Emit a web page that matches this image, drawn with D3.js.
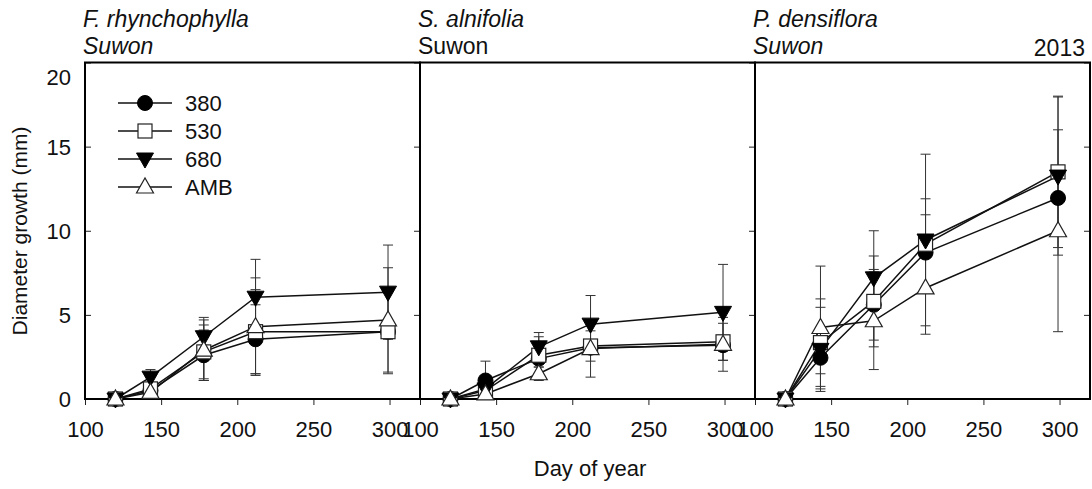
<!DOCTYPE html>
<html>
<head>
<meta charset="utf-8">
<script src="https://d3js.org/d3.v7.min.js"></script>
<style>
    body{ margin:0; background:#fff; }
    svg{ display:block; }
    text{ font-family: Arial, "Liberation Sans", sans-serif; fill:#111; }
</style>
</head>
<body>
<svg width="1092" height="489"></svg>
<script>
    // data
    const days = [120, 143, 178, 212, 299];
    const seriesNames = ["380", "530", "680", "AMB"];
    const panelNames = ["F. rhynchophylla", "S. alnifolia", "P. densiflora"];
    const siteNames = ["Suwon", "Suwon", "Suwon"];
    const xTicks = [100, 150, 200, 250, 300];
    const yTicks = [0, 5, 10, 15, 20];

    // means, one array per panel, rows in order of seriesNames
    const meansF = [[0, 0.5, 2.6, 3.55, 4.0], [0, 0.6, 2.8, 4.0, 4.0], [0, 1.3, 3.7, 6.05, 6.35], [0, 0.4, 2.9, 4.3, 4.7]];
    const meansS = [[0, 1.1, 2.4, 3.05, 3.2], [0, 0.5, 2.6, 3.15, 3.4], [0, 0.6, 3.1, 4.45, 5.15], [0, 0.3, 1.5, 3.0, 3.25]];
    const meansP = [[0, 2.45, 5.6, 8.7, 11.95], [0, 3.35, 5.8, 9.2, 13.5], [0, 2.95, 7.2, 9.45, 13.25], [0, 4.25, 4.65, 6.6, 10.0]];
    // error bar half-lengths
    const errF = [[0, 0.3, 1.5, 2.05, 2.5], [0, 0.3, 1.6, 2.5, 0.4], [0, 0.45, 1.15, 2.25, 2.8], [0, 0.3, 1.8, 2.9, 3.1]];
    const errS = [[0, 1.15, 0.5, 0.4, 0.35], [0, 0.3, 1.1, 0.9, 1.1], [0, 0.3, 0.85, 1.7, 2.85], [0, 0.2, 0.4, 1.7, 1.6]];
    const errP = [[0, 0.95, 2.1, 2.25, 1.9], [0, 2.6, 2.7, 2.7, 4.5], [0, 2.5, 2.8, 5.1, 4.7], [0, 3.65, 2.9, 2.75, 6.0]];

    const allMeans = [meansF, meansS, meansP];
    const allErr = [errF, errS, errP];

    const svg = d3.select("svg");
    svg.append("rect").attr("width", 1092).attr("height", 489).attr("fill", "#fff");

    const plotTop = 62.5, plotBottom = 399;
    const lefts = [85, 420, 755];
    const pw = 335;
    const fs = "22px";
    const y = d3.scaleLinear().domain([0, 20]).range([plotBottom, plotTop]);

    // marker drawing
    function marker(g, name, cx, cy){
        if(name === "380"){
            g.append("circle").attr("cx", cx).attr("cy", cy).attr("r", 7.5)
                .attr("fill", "#000").attr("stroke", "#000");
        } else if(name === "530"){
            g.append("rect").attr("x", cx-7).attr("y", cy-7).attr("width", 14).attr("height", 14)
                .attr("fill", "#fff").attr("stroke", "#222").attr("stroke-width", 1.2);
        } else if(name === "680"){
            g.append("path").attr("d", "M"+(cx-8.5)+","+(cy-6)+" L"+(cx+8.5)+","+(cy-6)+" L"+cx+","+(cy+9)+"Z")
                .attr("fill", "#000").attr("stroke", "#000");
        } else {
            g.append("path").attr("d", "M"+(cx-8.5)+","+(cy+6)+" L"+(cx+8.5)+","+(cy+6)+" L"+cx+","+(cy-9)+"Z")
                .attr("fill", "#fff").attr("stroke", "#222").attr("stroke-width", 1.2);
        }
    }

    panelNames.forEach(function(pname, p){
        const x0 = lefts[p];
        const x = d3.scaleLinear().domain([100, 320]).range([x0, x0 + pw]);
        const g = svg.append("g");

        // x axis, ticks pointing down
        g.append("g").attr("transform", "translate(0," + plotBottom + ")")
            .call(d3.axisBottom(x).tickValues(xTicks).tickSize(6).tickPadding(16).tickFormat(d3.format("d")))
            .call(a => a.select(".domain").remove())
            .call(a => a.selectAll("line").attr("stroke", "#222"))
            .call(a => a.selectAll("text").style("font-size", fs).attr("fill", "#111"));

        // inward ticks on right side
        g.append("g").attr("transform", "translate(" + (x0 + pw) + ",0)")
            .call(d3.axisRight(y).tickValues(yTicks).tickSize(-6).tickFormat(""))
            .call(a => a.select(".domain").remove())
            .call(a => a.selectAll("line").attr("stroke", "#222"));

        if(p === 0){
            g.append("g").attr("transform", "translate(" + x0 + ",0)")
                .call(d3.axisLeft(y).tickValues(yTicks).tickSize(-6).tickPadding(14))
                .call(a => a.select(".domain").remove())
                .call(a => a.selectAll("line").attr("stroke", "#222"))
                .call(a => a.selectAll("text").style("font-size", fs).attr("fill", "#111")
                    .attr("dy", d => d === 20 ? "1.0em" : "0.35em"));
        }

        // frame
        g.append("rect").attr("x", x0).attr("y", plotTop).attr("width", pw).attr("height", plotBottom - plotTop)
            .attr("fill", "none").attr("stroke", "#000").attr("stroke-width", 2);

        // titles
        g.append("text").attr("x", x0 - 2).attr("y", 27).style("font-size", "23px")
            .style("font-style", "italic").text(pname);
        g.append("text").attr("x", x0 - 2).attr("y", 54).style("font-size", "23px")
            .style("font-style", p === 1 ? "normal" : "italic").text(siteNames[p]);

        const means = allMeans[p], errs = allErr[p];

        // error bars
        seriesNames.forEach(function(s, i){
            days.forEach(function(d, j){
                const e = errs[i][j];
                if(e <= 0) return;
                const cx = x(d);
                const y1 = y(means[i][j] + e), y2 = y(Math.max(0, means[i][j] - e));
                g.append("line").attr("x1", cx).attr("x2", cx).attr("y1", y1).attr("y2", y2)
                    .attr("stroke", "#333").attr("stroke-width", 1);
                [y1, y2].forEach(function(yy){
                    g.append("line").attr("x1", cx-5).attr("x2", cx+5).attr("y1", yy).attr("y2", yy)
                        .attr("stroke", "#333").attr("stroke-width", 1);
                });
            });
        });

        // lines and markers
        const line = d3.line().x((v, j) => x(days[j])).y(v => y(v));
        seriesNames.forEach(function(s, i){
            g.append("path").attr("d", line(means[i])).attr("fill", "none")
                .attr("stroke", "#111").attr("stroke-width", 1.5);
        });
        seriesNames.forEach(function(s, i){
            means[i].forEach(function(v, j){ marker(g, s, x(days[j]), y(v)); });
        });
    });

    // year label
    svg.append("text").attr("x", 1085).attr("y", 56).attr("text-anchor", "end")
        .style("font-size", "23px").text("2013");

    // legend
    const leg = svg.append("g");
    seriesNames.forEach(function(s, i){
        const ly = 103 + i * 28;
        leg.append("line").attr("x1", 118).attr("x2", 172).attr("y1", ly).attr("y2", ly)
            .attr("stroke", "#111").attr("stroke-width", 1.5);
        marker(leg, s, 145, ly);
        leg.append("text").attr("x", 185).attr("y", ly + 8).style("font-size", fs).text(s);
    });

    // axis titles
    svg.append("text").attr("transform", "translate(27,231) rotate(-90)").attr("text-anchor", "middle")
        .style("font-size", "21px").text("Diameter growth (mm)");
    svg.append("text").attr("x", 590).attr("y", 476).attr("text-anchor", "middle")
        .style("font-size", fs).text("Day of year");
</script>
</body>
</html>
